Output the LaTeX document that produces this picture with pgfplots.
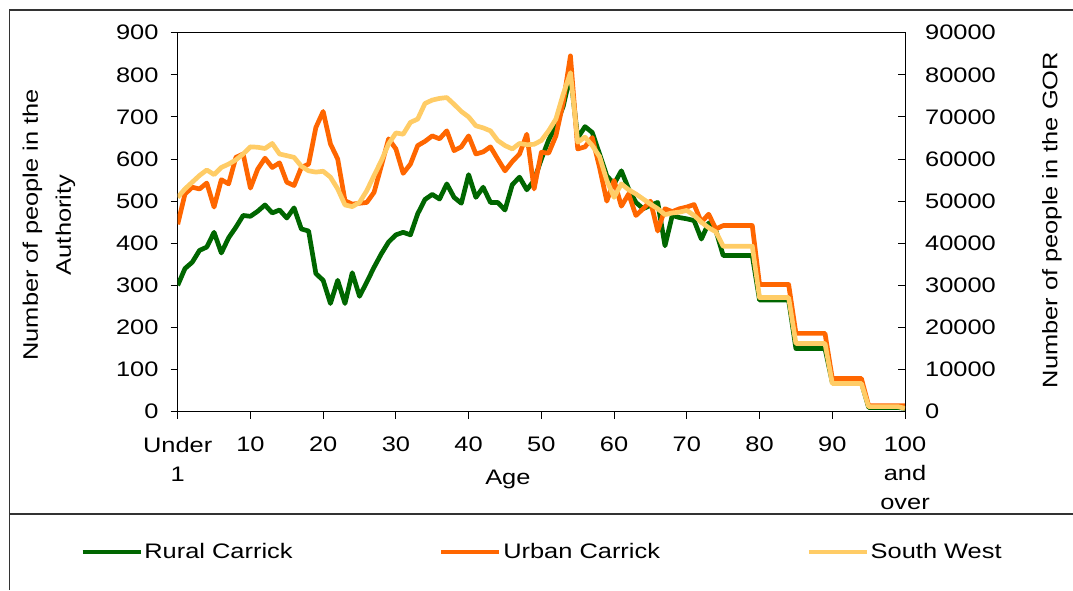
\documentclass[border=0pt]{standalone}
\usepackage{pgfplots}
\pgfplotsset{compat=1.18}
\usepackage{pgfplotstable}
\usepackage{fontspec}
\setmainfont{Liberation Sans}[FakeStretch=1.21]
\definecolor{rural}{HTML}{006600}
\definecolor{urban}{HTML}{FF6600}
\definecolor{swc}{HTML}{FFCC66}
\newcommand\ff{\fontsize{21}{29}\selectfont}

\pgfplotstableread{
age rural urban sw
0 300 445 50900
1 340 517 52900
2 355 533 54500
3 383 529 56100
4 391 543 57400
5 426 486 56300
6 377 551 58000
7 413 541 58800
8 438 604 59800
9 466 612 61200
10 464 531 62900
11 476 576 62800
12 491 602 62500
13 472 580 63700
14 479 591 61200
15 460 545 60800
16 484 537 60400
17 434 580 58300
18 429 588 57200
19 328 675 56900
20 312 713 57100
21 257 636 55700
22 312 600 52900
23 257 501 49100
24 330 493 48700
25 274 495 49700
26 308 497 52500
27 343 521 56100
28 375 584 59600
29 403 648 63600
30 420 624 66200
31 426 566 65900
32 420 588 68700
33 470 632 69500
34 504 642 73200
35 516 655 74000
36 505 648 74400
37 541 667 74600
38 509 620 73000
39 495 629 71300
40 563 655 70000
41 509 612 67900
42 533 617 67400
43 497 629 66700
44 497 600 64400
45 479 572 63200
46 539 594 62400
47 557 612 63700
48 527 659 63400
49 549 529 63500
50 600 616 64400
51 645 614 66700
52 680 655 69500
53 725 734 75400
54 800 845 80500
55 650 624 64000
56 677 629 65200
57 663 651 63200
58 612 580 60600
59 560 500 54900
60 541 549 50900
61 572 488 54100
62 529 517 52700
63 497 466 51700
64 482 482 50500
65 490 500 49300
66 497 429 48200
67 394 482 46800
68 466 475 47200
69 461 482 47400
70 458 486 47800
71 454 492 46600
72 410 450 45000
73 448 469 43700
74 430 434 42700
75 371 442 39300
76 371 442 39300
77 371 442 39300
78 371 442 39300
79 371 442 39300
80 265 302 27100
81 265 302 27100
82 265 302 27100
83 265 302 27100
84 265 302 27100
85 150 186 16200
86 150 186 16200
87 150 186 16200
88 150 186 16200
89 150 186 16200
90 70 79 6700
91 70 79 6700
92 70 79 6700
93 70 79 6700
94 70 79 6700
95 10 14 1200
96 10 14 1200
97 10 14 1200
98 10 14 1200
99 10 14 1200
100 8 14 800
}\data

\begin{document}
\begin{tikzpicture}[x=1pt,y=1pt,font=\ff]
\useasboundingbox (0,0) rectangle (1073,590);
\draw[line width=1.5pt,black!80] (9.5,0) -- (9.5,580) -- (1075,580);
\draw[line width=1.5pt,black!80] (9.5,76) -- (1075,76);
\begin{axis}[
  at={(177.7pt,178.3pt)}, anchor=south west, scale only axis,
  width=727.3pt, height=379pt,
  xmin=0, xmax=100, ymin=0, ymax=900,
  xtick={0,10,...,100},
  xticklabels={{Under\\1},10,20,30,40,50,60,70,80,90,{100\\and\\over}},
  ytick={0,100,...,900},
  tick pos=left, tick align=outside, major tick length=7pt,
  tick style={black, line width=1pt},
  axis line style={black, line width=1pt},
  xticklabel style={align=center, font=\ff, inner sep=0pt, anchor=north, yshift=-18pt},
  yticklabel style={font=\ff, inner sep=0pt, anchor=east, xshift=-12pt},
  /pgf/number format/assume math mode=true,
  xlabel={Age},
  xlabel style={at={(axis description cs:0.454,0)}, anchor=base, yshift=-73pt, font=\ff, inner sep=0pt},
  every axis plot/.append style={line width=4.7pt, line join=round},
  legend columns=3,
  legend style={draw=none, fill=none, font=\ff, at={(axis description cs:-0.1385,-0.370)}, anchor=west,
    /tikz/every even column/.append style={column sep=145pt},
    /tikz/every odd column/.append style={column sep=0pt},
    nodes={inner sep=1.5pt}},
  legend image code/.code={\draw[#1,line width=4.7pt] (0pt,0pt) -- (58pt,0pt);},
]
\addplot[rural] table[x=age,y=rural] {\data};
\addlegendentry{Rural Carrick}
\addplot[urban] table[x=age,y=urban] {\data};
\addlegendentry{Urban Carrick}
\addlegendimage{swc}
\addlegendentry{South West}
\end{axis}
\begin{axis}[
  at={(177.7pt,178.3pt)}, anchor=south west, scale only axis,
  width=727.3pt, height=379pt,
  xmin=0, xmax=100, ymin=0, ymax=90000,
  axis x line=none, axis y line*=right,
  ytick={0,10000,...,90000},
  scaled y ticks=false,
  tick align=inside, major tick length=7pt,
  tick style={black, line width=1pt},
  axis line style={black, line width=1pt},
  yticklabel style={font=\ff, inner sep=0pt, anchor=west, xshift=20pt,
    /pgf/number format/.cd, set thousands separator={}, assume math mode=true},
  every axis plot/.append style={line width=4.7pt, line join=round},
]
\addplot[swc] table[x=age,y=sw] {\data};
\end{axis}
\node[rotate=90, align=center, font=\fontsize{21}{33}\selectfont] at (49,365) {Number of people in the\\Authority};
\node[rotate=90, font=\ff] at (1052,370) {Number of people in the GOR};
\end{tikzpicture}
\end{document}
